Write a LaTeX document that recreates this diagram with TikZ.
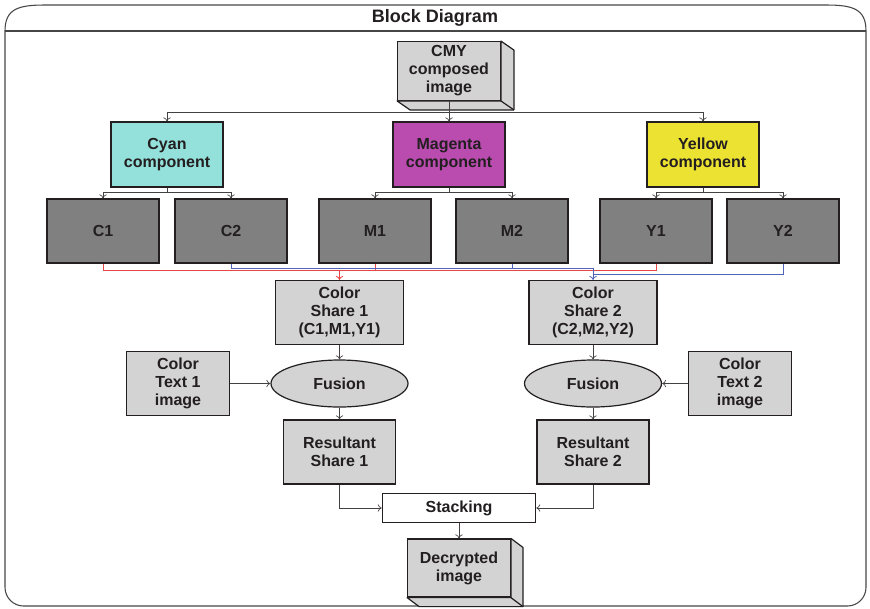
\documentclass[tikz,border=0pt]{standalone}
\usepackage{fontspec}
\setmainfont{Liberation Sans}
\usetikzlibrary{calc, shapes.geometric, arrows.meta}
\definecolor{boxgray}{RGB}{211,211,211}
\definecolor{partgray}{RGB}{128,128,128}
\definecolor{cyanfill}{RGB}{148,224,218}
\definecolor{magentafill}{RGB}{186,76,176}
\definecolor{yellowfill}{RGB}{236,226,50}
\definecolor{ink}{RGB}{35,31,32}
\definecolor{wirered}{RGB}{232,70,70}
\definecolor{wireblue}{RGB}{80,98,185}
\definecolor{framegray}{RGB}{70,70,70}

\begin{document}
\begin{tikzpicture}[x=0.75pt, y=-0.75pt, font=\fontsize{12}{13.5}\selectfont\bfseries,
  >={To[length=3pt, width=5.5pt]},
  block/.style={draw=ink, line width=0.9pt, fill=boxgray, text=ink, align=center,
    inner sep=0pt, minimum width=84pt, minimum height=48pt},
  part/.style={block, fill=partgray},
  cube/.style={block, minimum width=77pt, minimum height=44pt},
  cubeside/.style={draw=ink, line width=0.9pt, fill=boxgray, line join=round},
  fusionbox/.style={block, ellipse, minimum width=102.75pt, minimum height=35.25pt},
  wire/.style={draw=ink!85, line width=0.5pt},
  redwire/.style={draw=wirered, line width=0.6pt},
  bluewire/.style={draw=wireblue, line width=0.6pt},
  frame/.style={draw=framegray, line width=0.8pt}]
  \useasboundingbox (0,0) rectangle (870,608);

  % outer frame with title bar
  \draw[frame, rounded corners=14pt] (5,31) -- (5,606) -- (866,606) -- (866,31);
  \draw[frame] (5,31) .. controls (5,9) and (18,5) .. (45,5) -- (826,5)
    .. controls (853,5) and (866,9) .. (866,31);
  \draw[frame] (5,31) -- (866,31);
  \node[text=ink, font=\fontsize{13.5}{15}\selectfont\bfseries] (title) at (435,18) {Block Diagram};

  % source image (3D box)
  \node[cube] (cmy) at (449,71) {CMY\\composed\\image};
  \draw[cubeside] (cmy.north east) -- ++(13,9) -- ($(cmy.south east)+(13,9)$)
    -- ($(cmy.south west)+(13,9)$) -- (cmy.south west) -- (cmy.south east) -- cycle;
  \draw[cubeside] (cmy.south east) -- ++(13,9);

  % colour components
  \node[block, fill=cyanfill, minimum height=48.75pt] (cyan) at (167,154.5) {Cyan\\component};
  \node[block, fill=magentafill, minimum height=48.75pt] (magenta) at (449,154.5) {Magenta\\component};
  \node[block, fill=yellowfill, minimum height=48.75pt] (yellow) at (703,154.5) {Yellow\\component};

  \coordinate (split) at ($(cmy.south)+(0,11)$);
  \draw[wire, ->] (cmy.south) -- (split) -| (cyan.north);
  \draw[wire, ->] (split) -| (yellow.north);
  \draw[wire, ->] (split) -- (magenta.north);

  % shares of each component
  \foreach \n/\x/\t in {c1/103/C1, c2/231/C2, m1/375/M1, m2/512/M2, y1/656/Y1, y2/783/Y2}
    \node[part] (\n) at (\x,231) {\t};

  \foreach \p/\a/\b in {cyan/c1/c2, magenta/m1/m2, yellow/y1/y2} {
    \draw[wire, ->] (\p.south) -- ++(0,5) -| (\a.north);
    \draw[wire, ->] (\p.south) -- ++(0,5) -| (\b.north);
  }

  % colour shares
  \node[block, minimum width=96pt] (share1) at (339.5,312.5) {Color\\Share 1\\(C1,M1,Y1)};
  \node[block, minimum width=96pt] (share2) at (593,312.5) {Color\\Share 2\\(C2,M2,Y2)};

  \coordinate (redjoin) at ($(share1.north)+(0,-9.5)$);
  \draw[redwire] (c1.south) |- (redjoin);
  \draw[redwire] (y1.south) |- (redjoin);
  \draw[redwire] (m1.south) |- (redjoin);
  \draw[redwire, ->] (redjoin) -- (share1.north);

  \coordinate (bluejoin) at ($(share2.north)+(0,-12)$);
  \coordinate (bluejoin2) at ($(share2.north)+(0,-5.5)$);
  \draw[bluewire] (c2.south) |- (bluejoin);
  \draw[bluewire] (m2.south) |- (bluejoin);
  \draw[bluewire] (y2.south) |- (bluejoin2);
  \draw[bluewire, ->] (bluejoin) -- (share2.north);

  % fusion with text images
  \node[fusionbox] (fusion1) at (339.5,383.5) {Fusion};
  \node[fusionbox] (fusion2) at (593,383.5) {Fusion};
  \node[block, minimum width=77pt] (text1) at (178,383.5) {Color\\Text 1\\image};
  \node[block, minimum width=77pt] (text2) at (740,383.5) {Color\\Text 2\\image};

  \node[block] (result1) at (339.5,452) {Resultant\\Share 1};
  \node[block] (result2) at (593,452) {Resultant\\Share 2};

  \draw[wire, ->] (share1) -- (fusion1);
  \draw[wire, ->] (share2) -- (fusion2);
  \draw[wire, ->] (text1) -- (fusion1);
  \draw[wire, ->] (text2) -- (fusion2);
  \draw[wire, ->] (fusion1) -- (result1);
  \draw[wire, ->] (fusion2) -- (result2);

  % stacking and result
  \node[block, fill=white, minimum width=115pt, minimum height=21.75pt] (stack) at (459,508) {Stacking};
  \draw[wire, ->] (result1.south) |- (stack.west);
  \draw[wire, ->] (result2.south) |- (stack.east);

  \node[cube, minimum height=43.5pt] (decrypt) at (459,568) {Decrypted\\image};
  \draw[cubeside] (decrypt.north east) -- ++(12,9) -- ($(decrypt.south east)+(12,9)$)
    -- ($(decrypt.south west)+(12,9)$) -- (decrypt.south west) -- (decrypt.south east) -- cycle;
  \draw[cubeside] (decrypt.south east) -- ++(12,9);
  \draw[wire, ->] (stack) -- (decrypt);
\end{tikzpicture}
\end{document}
